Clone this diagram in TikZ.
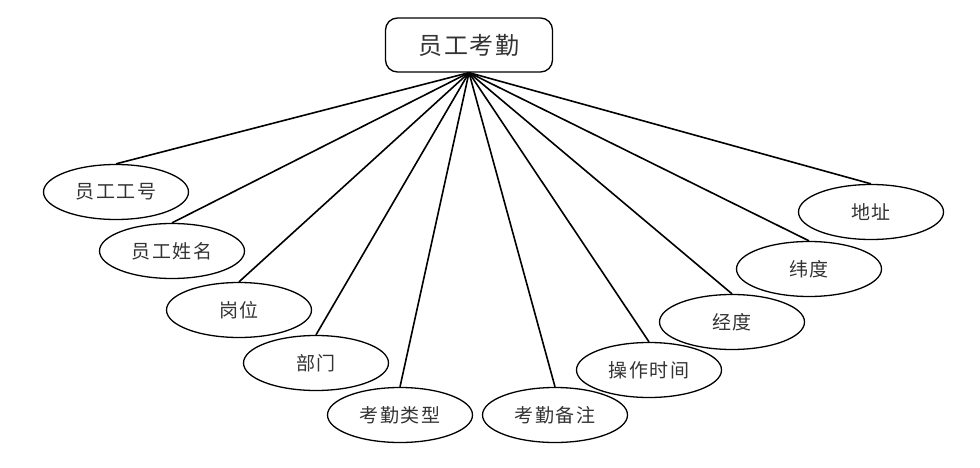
\documentclass[tikz,border=0pt]{standalone}
\usepackage{fontspec}
\newfontfamily\cjk[LetterSpace=8]{Noto Sans CJK SC}
\usetikzlibrary{shapes.geometric}

\begin{document}
\begin{tikzpicture}[x=1pt,y=-1pt,
  attr/.style={ellipse,draw,line width=1.3pt,minimum width=145pt,minimum height=55pt,inner sep=0pt,text=black!80,font=\cjk\fontsize{19}{19}\selectfont},
  ent/.style={rectangle,rounded corners=12pt,draw,line width=1.3pt,minimum width=167pt,minimum height=54pt,text=black!80,font=\cjk\fontsize{24}{24}\selectfont}]
\useasboundingbox (0,0) rectangle (980,468);
\node[ent] (e) at (469,45) {员工考勤};
\node[attr] (a1) at (116,192) {员工工号};
\node[attr] (a2) at (172,251) {员工姓名};
\node[attr] (a3) at (239,310) {岗位};
\node[attr] (a4) at (316,363) {部门};
\node[attr] (a5) at (400,415) {考勤类型};
\node[attr] (a6) at (555,415) {考勤备注};
\node[attr] (a7) at (649,370) {操作时间};
\node[attr] (a8) at (732,322) {经度};
\node[attr] (a9) at (809,269) {纬度};
\node[attr] (a10) at (871,212) {地址};
\path[-,line width=1.6pt] (e.south) edge (a1.north) (e.south) edge (a2.north) (e.south) edge (a3.north)
  (e.south) edge (a4.north) (e.south) edge (a5.north);
\path[-,line width=1.6pt] (e.south) edge (a6.north) (e.south) edge (a7.north) (e.south) edge (a8.north)
  (e.south) edge (a9.north) (e.south) edge (a10.north);
\end{tikzpicture}
\end{document}
